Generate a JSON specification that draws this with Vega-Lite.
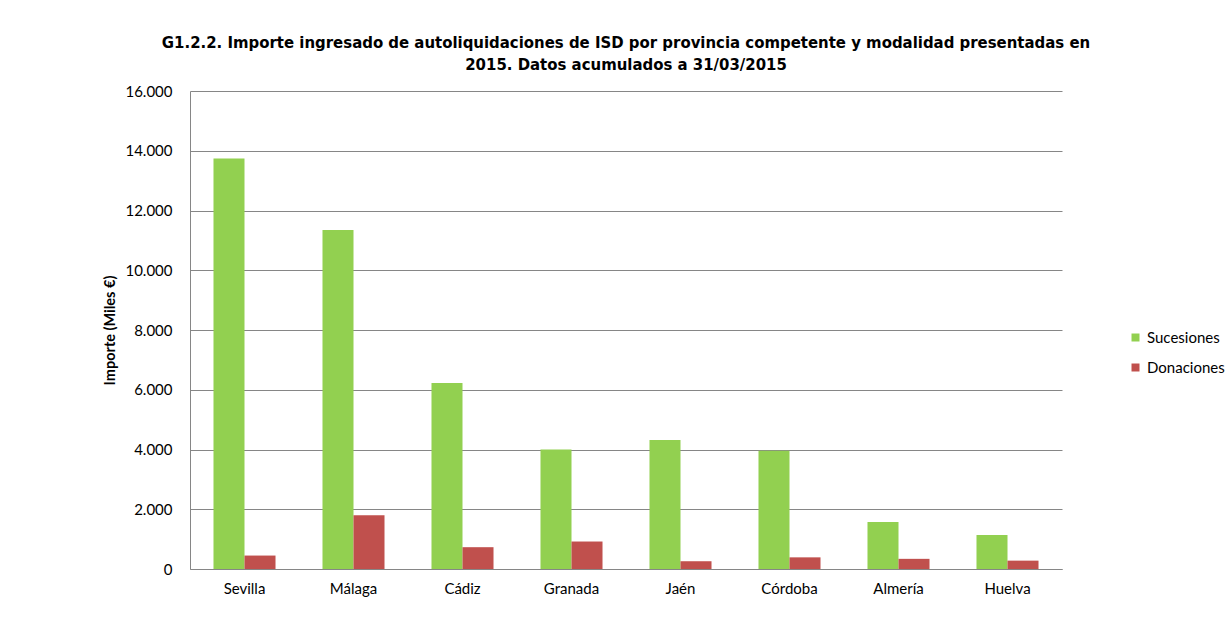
{
  "$schema": "https://vega.github.io/schema/vega-lite/v6.json",
  "width": 872,
  "height": 478,
  "autosize": {"type": "none"},
  "padding": {"left": 190, "top": 91, "right": 169, "bottom": 50},
  "background": "white",
  "title": {
    "text": ["G1.2.2. Importe ingresado de autoliquidaciones de ISD por provincia competente y modalidad presentadas en", "2015. Datos acumulados a 31/03/2015"],
    "font": "DejaVu Sans Condensed, Liberation Sans Narrow, Roboto, sans-serif",
    "fontSize": 16.6,
    "fontWeight": "bold",
    "color": "black",
    "lineHeight": 22,
    "anchor": "middle",
    "frame": "group",
    "offset": 10
  },
  "config": {
    "locale": {"number": {"decimal": ",", "thousands": ".", "grouping": [3], "currency": ["", " €"]}},
    "view": {"stroke": null},
    "font": "Lato",
    "axis": {"labelFont": "Lato", "labelFontSize": 15, "labelColor": "black", "titleFont": "Lato", "titleColor": "black"},
    "legend": {"labelFont": "Lato", "labelFontSize": 15, "labelColor": "black"}
  },
  "data": {
    "values": [
      {"provincia": "Sevilla", "modalidad": "Sucesiones", "importe": 13740},
      {"provincia": "Sevilla", "modalidad": "Donaciones", "importe": 450},
      {"provincia": "Málaga", "modalidad": "Sucesiones", "importe": 11350},
      {"provincia": "Málaga", "modalidad": "Donaciones", "importe": 1800},
      {"provincia": "Cádiz", "modalidad": "Sucesiones", "importe": 6230},
      {"provincia": "Cádiz", "modalidad": "Donaciones", "importe": 730},
      {"provincia": "Granada", "modalidad": "Sucesiones", "importe": 4000},
      {"provincia": "Granada", "modalidad": "Donaciones", "importe": 920},
      {"provincia": "Jaén", "modalidad": "Sucesiones", "importe": 4320},
      {"provincia": "Jaén", "modalidad": "Donaciones", "importe": 260},
      {"provincia": "Córdoba", "modalidad": "Sucesiones", "importe": 3960},
      {"provincia": "Córdoba", "modalidad": "Donaciones", "importe": 390},
      {"provincia": "Almería", "modalidad": "Sucesiones", "importe": 1570},
      {"provincia": "Almería", "modalidad": "Donaciones", "importe": 340},
      {"provincia": "Huelva", "modalidad": "Sucesiones", "importe": 1140},
      {"provincia": "Huelva", "modalidad": "Donaciones", "importe": 280}
    ]
  },
  "mark": {"type": "bar"},
  "encoding": {
    "x": {
      "field": "provincia",
      "type": "nominal",
      "sort": null,
      "scale": {"paddingInner": 0.431, "paddingOuter": 0.2155},
      "axis": {"title": null, "labelAngle": 0, "ticks": false, "labelPadding": 12, "domainColor": "#868686", "grid": false}
    },
    "xOffset": {
      "field": "modalidad",
      "type": "nominal",
      "sort": ["Sucesiones", "Donaciones"],
      "scale": {"paddingInner": 0, "paddingOuter": 0}
    },
    "y": {
      "field": "importe",
      "type": "quantitative",
      "scale": {"domain": [0, 16000], "nice": false},
      "axis": {
        "title": "Importe (Miles €)",
        "titleFontSize": 14.5,
        "titleFontWeight": "bold",
        "titlePadding": 7,
        "format": ",d",
        "values": [0, 2000, 4000, 6000, 8000, 10000, 12000, 14000, 16000],
        "ticks": false,
        "labelPadding": 18,
        "domainColor": "#868686",
        "gridColor": "#868686",
        "gridOpacity": 1
      }
    },
    "color": {
      "field": "modalidad",
      "type": "nominal",
      "sort": ["Sucesiones", "Donaciones"],
      "scale": {"domain": ["Sucesiones", "Donaciones"], "range": ["#92D050", "#C0504D"]},
      "legend": {
        "title": null,
        "orient": "none",
        "legendX": 938,
        "legendY": 239,
        "symbolType": "square",
        "symbolSize": 64,
        "symbolStrokeWidth": 0,
        "rowPadding": 14,
        "labelOffset": 4
      }
    }
  }
}
